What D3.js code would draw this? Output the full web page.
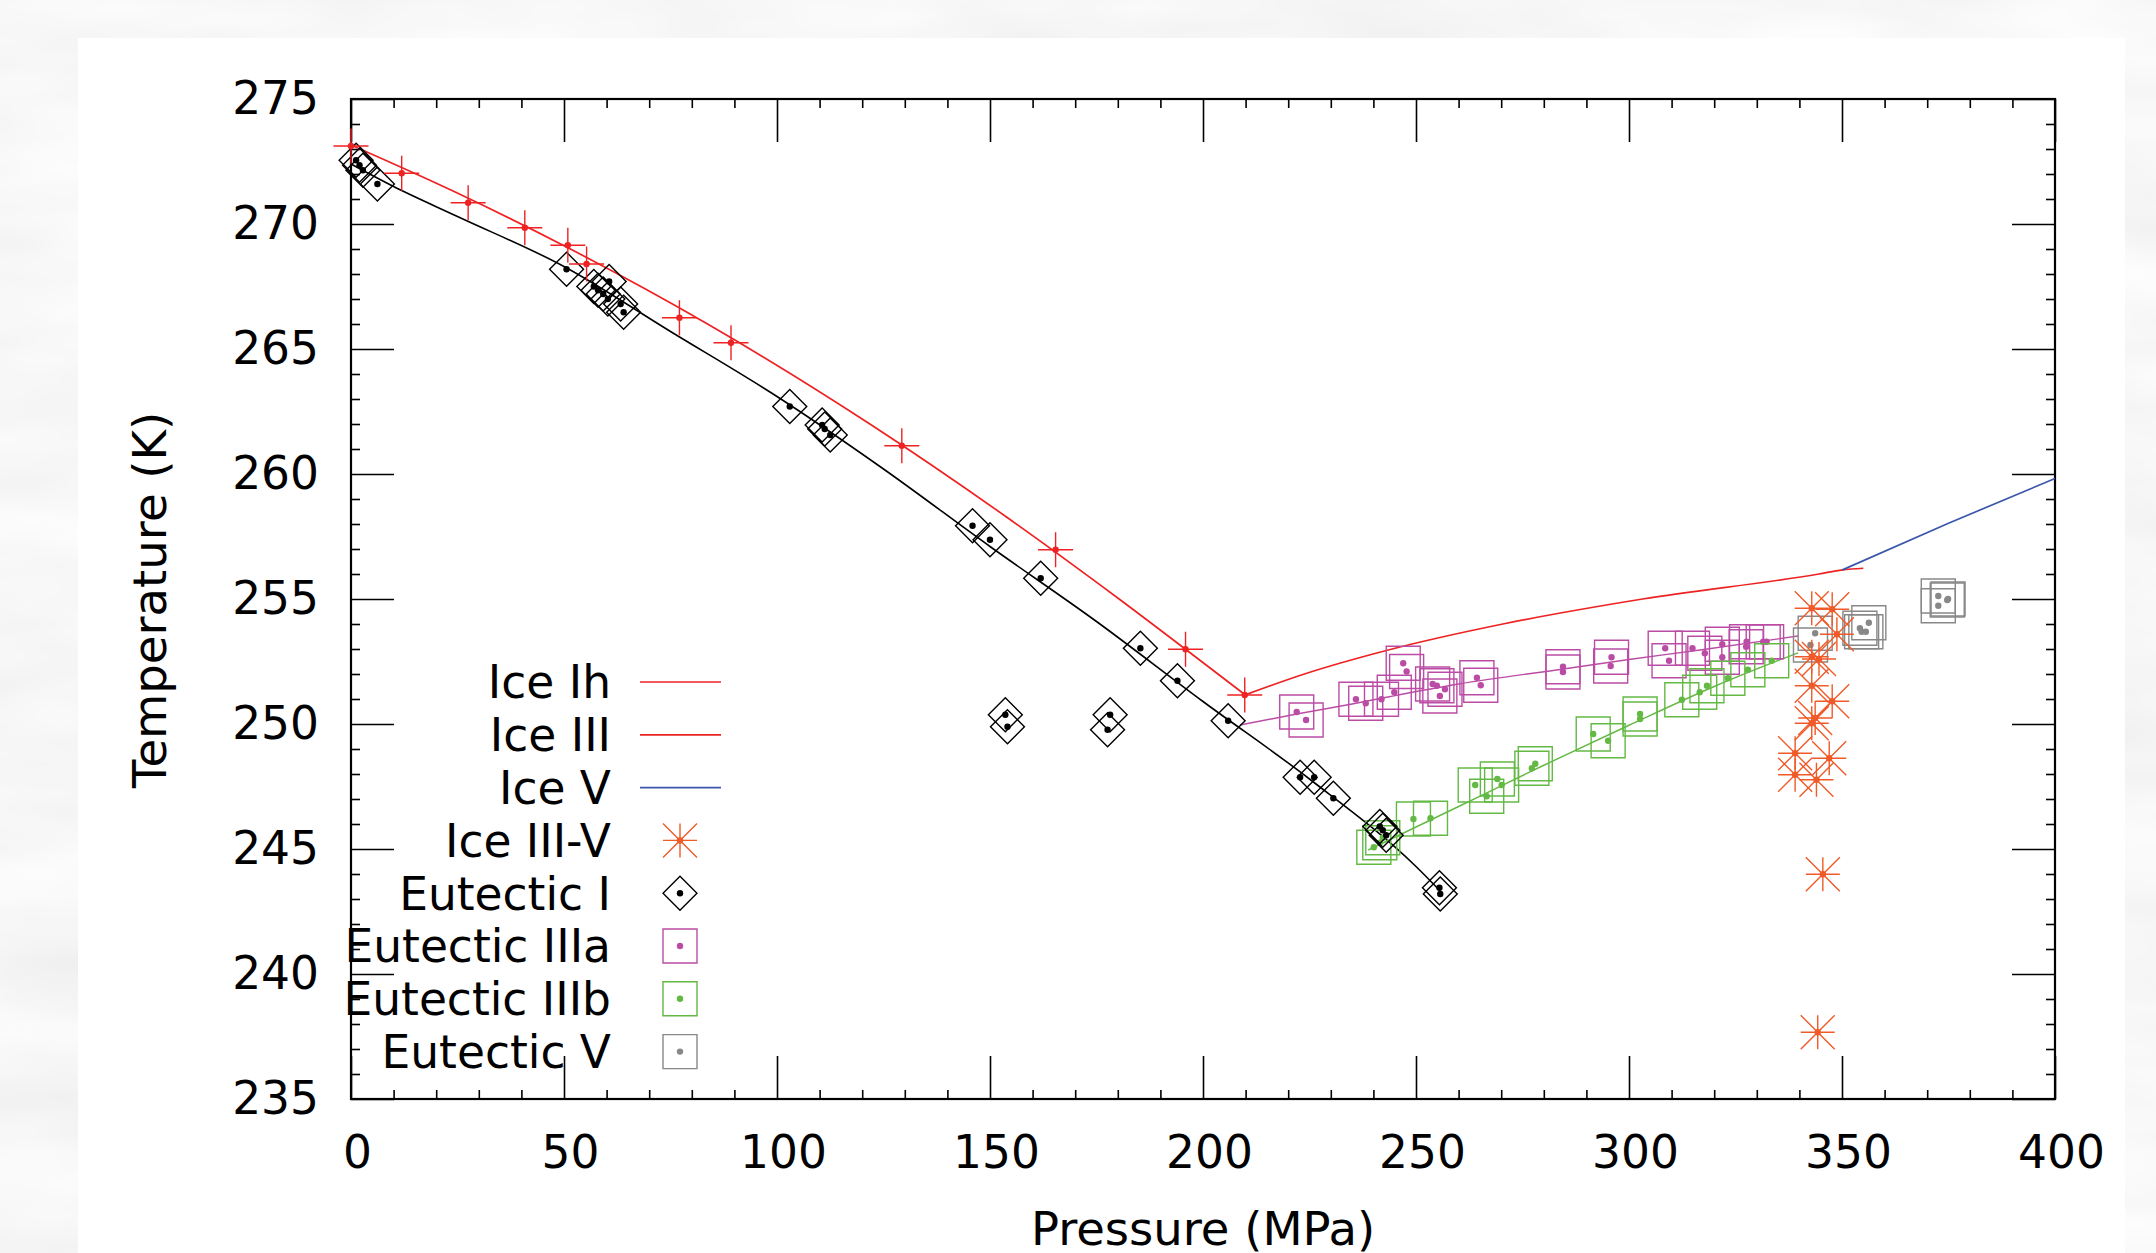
<!DOCTYPE html>
<html>
<head>
<meta charset="utf-8">
<script src="https://cdn.jsdelivr.net/npm/d3@7"></script>
<style>
  body { margin: 0; background: #fff; }
  svg { display: block; }
  text { font-family: "DejaVu Sans", sans-serif; fill: #000; }
</style>
</head>
<body>
<svg id="chart"></svg>
<script>
var svgWidth = 2156, svgHeight = 1253;
var plot = {left: 351, right: 2055, top: 99, bottom: 1099};

// ---- data (pressure MPa, temperature K) ----
var xMajorTicks = [0, 50, 100, 150, 200, 250, 300, 350, 400];
var yMajorTicks = [235, 240, 245, 250, 255, 260, 265, 270, 275];

// melting curves
var iceIhCurve = [[0, 273.16], [24.2, 271.3], [51.5, 269.0], [83.7, 266.0], [121.8, 262.0],
                  [153.7, 258.3], [180.3, 255.0], [203.5, 252.0], [209.9, 251.165]];
var iceIIICurve = [[209.9, 251.165], [223.8, 252.0], [244.4, 253.0], [270.4, 254.0],
                   [303.2, 255.0], [344.6, 256.0], [350.1, 256.164], [355.0, 256.23]];
var iceVCurve = [[350.1, 256.164], [375, 258.03], [400, 259.82]];

// fitted eutectic lines
var eutIFit = [[0, 272.4], [10, 271.5], [25, 270.3], [50, 268.3], [75, 265.7], [100, 263.1],
               [125, 260.2], [150, 257.1], [175, 254.1], [200, 250.9], [225, 247.8],
               [250, 244.3], [255.8, 243.3]];
var eutIIIaFit = [[208.7, 249.96], [222, 250.4], [235, 250.8], [244, 251.1], [260, 251.6],
                  [284.6, 252.2], [300, 252.58], [316.7, 252.96], [339.7, 253.52]];
var eutIIIbFit = [[238.8, 244.96], [260, 246.7], [280, 248.35], [300, 249.95],
                  [320, 251.5], [339.7, 252.85]];

// measured points
var iceIhPoints = [[0, 273.12], [11.9, 272.03], [27.5, 270.85], [40.8, 269.85], [50.9, 269.15],
                   [55.3, 268.4], [77.1, 266.25], [89.2, 265.25], [129.3, 261.13],
                   [165.4, 256.97], [195.9, 252.99], [209.8, 251.16]];

var iceIIIVPoints = [[342.9, 254.63], [347.7, 254.59], [348.8, 253.59], [342.9, 252.69],
                     [344.6, 252.6], [342.9, 251.53], [347.7, 250.91], [343.7, 250.24],
                     [342.9, 250.03], [339.0, 248.83], [347.0, 248.63], [339.0, 247.97],
                     [344.0, 247.77], [345.5, 243.99], [344.3, 237.67]];

var eutIPoints = [[1.2, 272.55], [2.0, 272.35], [2.8, 272.15], [6.2, 271.6], [50.6, 268.19],
                  [57.0, 267.5], [58.0, 267.35], [59.2, 267.2], [60.6, 267.7], [60.3, 267.0],
                  [63.3, 266.8], [64.0, 266.47], [103.0, 262.7], [110.6, 261.96], [111.2, 261.8],
                  [112.5, 261.56], [145.9, 257.93], [150.0, 257.37], [161.9, 255.83],
                  [185.3, 253.03], [194.0, 251.73], [205.9, 250.13], [153.6, 250.37],
                  [154.1, 249.89], [178.2, 250.37], [177.6, 249.77], [222.8, 247.87],
                  [226.1, 247.87], [230.6, 247.03], [241.5, 245.9], [242.2, 245.75],
                  [243.0, 245.55], [255.5, 243.45], [255.7, 243.2]];

var eutIIIaPoints = [[222.0, 250.48], [224.2, 250.16], [235.9, 250.99], [238.2, 250.83],
                     [241.9, 250.99], [244.9, 251.27], [247.0, 252.43], [247.8, 252.10],
                     [253.9, 251.60], [254.9, 251.53], [256.8, 251.39], [255.6, 251.12],
                     [264.3, 251.85], [265.2, 251.55], [284.5, 252.29], [284.5, 252.08],
                     [295.9, 252.67], [295.7, 252.32], [308.5, 253.03], [309.4, 252.53],
                     [314.9, 253.03], [317.8, 252.83], [321.9, 253.19], [321.9, 252.67],
                     [327.6, 253.29], [327.5, 253.09], [331.5, 253.29], [332.3, 253.29]];

var eutIIIbPoints = [[240.1, 245.07], [241.5, 245.25], [242.2, 245.45], [249.4, 246.20],
                     [253.4, 246.23], [263.9, 247.56], [266.6, 247.11], [269.1, 247.80],
                     [270.1, 247.56], [277.2, 248.23], [278.0, 248.41], [291.6, 249.60],
                     [295.1, 249.33], [302.6, 250.40], [302.6, 250.20], [312.4, 250.97],
                     [316.6, 251.27], [318.3, 251.53], [323.2, 251.83], [327.9, 252.17],
                     [333.5, 252.53]];

var eutVPoints = [[342.6, 253.16], [343.7, 253.63], [354.2, 253.83], [354.6, 253.69],
                  [355.6, 253.69], [356.3, 254.05], [372.6, 255.12], [372.6, 254.73],
                  [374.7, 254.96], [374.9, 255.00]];

var legendLabels = ["Ice Ih", "Ice III", "Ice V", "Ice III-V", "Eutectic I",
                    "Eutectic IIIa", "Eutectic IIIb", "Eutectic V"];

// ---- colours ----
var red = "#ee2222", blue = "#3b57ab", orange = "#f05a28",
    magenta = "#bb4ca5", green = "#63b944", grey = "#888888";

var fontSize = 45.5, titleSize = 46.5;

var svg = d3.select("#chart").attr("width", svgWidth).attr("height", svgHeight);

// paper-like grey background and white panel
var defs = svg.append("defs");
var paper = defs.append("filter").attr("id", "paper")
    .attr("filterUnits", "userSpaceOnUse")
    .attr("x", 0).attr("y", 0).attr("width", svgWidth).attr("height", svgHeight);
paper.append("feTurbulence")
    .attr("type", "fractalNoise")
    .attr("baseFrequency", "0.004 0.014")
    .attr("numOctaves", 3)
    .attr("seed", 7);
paper.append("feColorMatrix")
    .attr("type", "matrix")
    .attr("values", "0.16 0 0 0 0.85  0.16 0 0 0 0.85  0.16 0 0 0 0.85  0 0 0 0 1");

svg.append("rect")
    .attr("width", svgWidth).attr("height", svgHeight)
    .attr("fill", "#ececec")
    .attr("filter", "url(#paper)");

svg.append("rect")
    .attr("x", 78).attr("y", 38)
    .attr("width", 2125 - 78).attr("height", svgHeight - 38)
    .attr("fill", "#ffffff");

// ---- scales ----
var x = d3.scaleLinear().domain([0, 400]).range([plot.left, plot.right]);
var y = d3.scaleLinear().domain([235, 275]).range([plot.bottom, plot.top]);

// ---- axes (ticks on all four sides, pointing inwards) ----
var xMinor = d3.range(0, 401, 10).filter(function(d) { return d % 50 !== 0; });
var yMinor = d3.range(235, 276, 1).filter(function(d) { return d % 5 !== 0; });

function styleAxis(g) {
    g.select(".domain").remove();
    g.selectAll(".tick line").attr("stroke", "#000").attr("stroke-width", 1.6);
    g.selectAll(".tick text").attr("font-size", fontSize).attr("font-family", "DejaVu Sans");
}

var axes = svg.append("g").attr("class", "axes");

axes.append("g")
    .attr("transform", "translate(0," + plot.bottom + ")")
    .call(d3.axisBottom(x).tickValues(xMajorTicks).tickSizeInner(-43).tickSizeOuter(0)
          .tickPadding(37).tickFormat(d3.format("d")))
    .call(styleAxis)
    .selectAll(".tick text").attr("dx", 6);
axes.append("g")
    .attr("transform", "translate(0," + plot.bottom + ")")
    .call(d3.axisBottom(x).tickValues(xMinor).tickSizeInner(-9).tickSizeOuter(0).tickFormat(""))
    .call(styleAxis);
axes.append("g")
    .attr("transform", "translate(0," + plot.top + ")")
    .call(d3.axisTop(x).tickValues(xMajorTicks).tickSizeInner(-43).tickSizeOuter(0).tickFormat(""))
    .call(styleAxis);
axes.append("g")
    .attr("transform", "translate(0," + plot.top + ")")
    .call(d3.axisTop(x).tickValues(xMinor).tickSizeInner(-9).tickSizeOuter(0).tickFormat(""))
    .call(styleAxis);

axes.append("g")
    .attr("transform", "translate(" + plot.left + ",0)")
    .call(d3.axisLeft(y).tickValues(yMajorTicks).tickSizeInner(-43).tickSizeOuter(0)
          .tickPadding(32).tickFormat(d3.format("d")))
    .call(styleAxis);
axes.append("g")
    .attr("transform", "translate(" + plot.left + ",0)")
    .call(d3.axisLeft(y).tickValues(yMinor).tickSizeInner(-9).tickSizeOuter(0).tickFormat(""))
    .call(styleAxis);
axes.append("g")
    .attr("transform", "translate(" + plot.right + ",0)")
    .call(d3.axisRight(y).tickValues(yMajorTicks).tickSizeInner(-43).tickSizeOuter(0).tickFormat(""))
    .call(styleAxis);
axes.append("g")
    .attr("transform", "translate(" + plot.right + ",0)")
    .call(d3.axisRight(y).tickValues(yMinor).tickSizeInner(-9).tickSizeOuter(0).tickFormat(""))
    .call(styleAxis);

// frame
axes.append("rect")
    .attr("x", plot.left).attr("y", plot.top)
    .attr("width", plot.right - plot.left).attr("height", plot.bottom - plot.top)
    .attr("fill", "none").attr("stroke", "#000").attr("stroke-width", 2.2);

// axis titles
svg.append("text")
    .attr("x", (plot.left + plot.right) / 2)
    .attr("y", 1245)
    .attr("text-anchor", "middle")
    .attr("font-size", titleSize)
    .text("Pressure (MPa)");

svg.append("text")
    .attr("transform", "translate(166," + ((plot.top + plot.bottom) / 2 + 1) + ") rotate(-90)")
    .attr("text-anchor", "middle")
    .attr("font-size", titleSize)
    .text("Temperature (K)");

// ---- marker shapes ----
function plusPath(r) {
    return "M" + (-r) + ",0H" + r + "M0," + (-r) + "V" + r;
}
function starPath(r) {
    return plusPath(r) + "M" + (-r) + "," + (-r) + "L" + r + "," + r +
           "M" + (-r) + "," + r + "L" + r + "," + (-r);
}
var squareSym = d3.symbol().type(d3.symbolSquare).size(34 * 34);
var diamondSym = d3.symbol().type(d3.symbolSquare).size(24 * 24);

// ---- curves ----
var line = d3.line()
    .x(function(d) { return x(d[0]); })
    .y(function(d) { return y(d[1]); })
    .curve(d3.curveMonotoneX);

var marks = svg.append("g").attr("class", "marks");

function drawLine(data, color, w) {
    marks.append("path")
        .datum(data)
        .attr("d", line)
        .attr("fill", "none")
        .attr("stroke", color)
        .attr("stroke-width", w)
        .attr("stroke-linejoin", "round");
}

drawLine(eutIFit, "#000", 1.6);
drawLine(eutIIIaFit, magenta, 1.4);
drawLine(eutIIIbFit, green, 1.4);
drawLine(iceIhCurve, red, 1.7);
drawLine(iceIIICurve, red, 1.7);
drawLine(iceVCurve, blue, 1.7);

function drawPoints(data, color, pathFn, rotate) {
    var g = marks.append("g");
    var pts = g.selectAll("g").data(data).enter().append("g")
        .attr("transform", function(d) { return "translate(" + x(d[0]) + "," + y(d[1]) + ")"; });
    pts.append("path")
        .attr("d", pathFn)
        .attr("transform", rotate ? "rotate(45)" : null)
        .attr("fill", "none")
        .attr("stroke", color)
        .attr("stroke-width", 1.4);
    pts.append("circle")
        .attr("r", 3.2)
        .attr("fill", color);
}

drawPoints(eutIIIaPoints, magenta, function() { return squareSym(); }, false);
drawPoints(eutIIIbPoints, green, function() { return squareSym(); }, false);
drawPoints(eutVPoints, grey, function() { return squareSym(); }, false);
drawPoints(eutIPoints, "#000", function() { return diamondSym(); }, true);
drawPoints(iceIhPoints, red, function() { return plusPath(17.5); }, false);
drawPoints(iceIIIVPoints, orange, function() { return starPath(17); }, false);

// ---- legend ----
var legend = svg.append("g").attr("class", "legend");
var legendTop = 682, legendStep = 52.8;
var legendKeys = [
    {type: "line", color: red},
    {type: "line", color: red},
    {type: "line", color: blue},
    {type: "star", color: orange},
    {type: "diamond", color: "#000"},
    {type: "square", color: magenta},
    {type: "square", color: green},
    {type: "square", color: grey}
];

legendLabels.forEach(function(label, i) {
    var ly = legendTop + i * legendStep;
    legend.append("text")
        .attr("x", 611)
        .attr("y", ly)
        .attr("dy", "0.36em")
        .attr("text-anchor", "end")
        .attr("font-size", fontSize)
        .text(label);

    var key = legendKeys[i];
    var kg = legend.append("g").attr("transform", "translate(680," + ly + ")");
    if (key.type === "line") {
        kg.append("line")
            .attr("x1", -40).attr("x2", 41)
            .attr("stroke", key.color).attr("stroke-width", 1.7);
        return;
    }
    var shape = kg.append("path")
        .attr("fill", "none")
        .attr("stroke", key.color)
        .attr("stroke-width", 1.4);
    if (key.type === "star") shape.attr("d", starPath(17));
    if (key.type === "square") shape.attr("d", squareSym());
    if (key.type === "diamond") shape.attr("d", diamondSym()).attr("transform", "rotate(45)");
    kg.append("circle").attr("r", 3.2).attr("fill", key.color);
});
</script>
</body>
</html>
